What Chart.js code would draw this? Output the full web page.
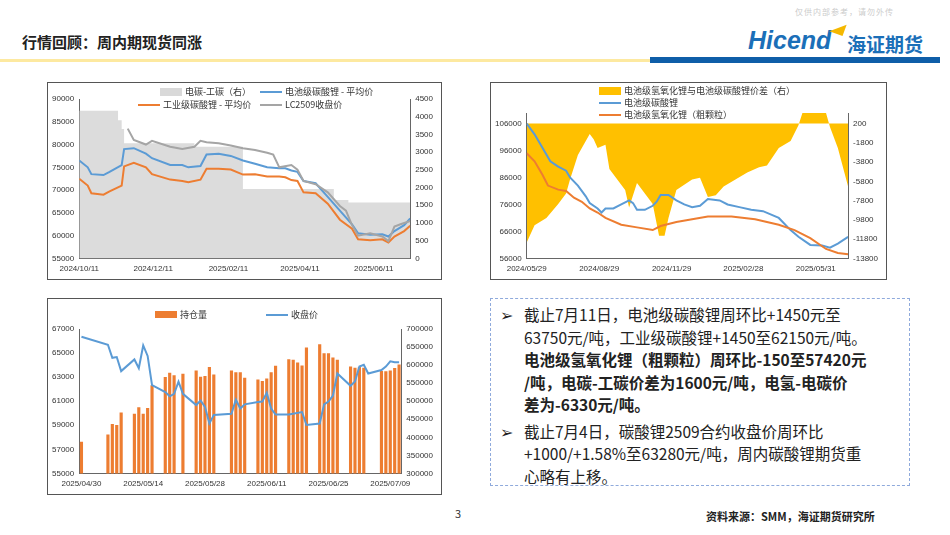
<!DOCTYPE html>
<html>
<head>
<meta charset="utf-8">
<script src="https://cdn.jsdelivr.net/npm/chart.js@4.4.0/dist/chart.umd.min.js"></script>
<style>
  body { margin: 0; width: 950px; height: 535px; background: #fff; position: relative; overflow: hidden; font-family: "Noto Sans CJK SC", "Noto Sans", sans-serif; }
  .abs { position: absolute; }
  .box { position: absolute; border: 1px solid #555; background: #fff; }
  .box canvas { position: absolute; left: 0; top: 0; }
  .leg { position: absolute; font-size: 9px; color: #333; white-space: nowrap; display: flex; align-items: center; }
  .sw { display: inline-block; width: 22px; margin-right: 3px; }
  #txt { left: 490px; top: 298px; width: 418px; height: 186px; border: 1.5px dashed #8faadc; font-size: 15.5px; line-height: 22.5px; color: #222; white-space: nowrap; }
  #txt p { margin: 0; padding-left: 33px; position: relative; }
  #txt p span.ar { position: absolute; left: 9px; }
</style>
</head>
<body>
<div class="abs" style="left:22px;top:31px;font-size:15px;font-weight:bold;color:#222;">行情回顾：周内期现货同涨</div>
<div class="abs" style="left:795px;top:6px;font-size:8px;color:#ccc;letter-spacing:1px;">仅供内部参考，请勿外传</div>
<div class="abs" style="left:748px;top:26px;font-size:25px;font-weight:bold;font-style:italic;color:#1b6fb8;font-family:'Liberation Sans',sans-serif;">Hicend</div>
<div class="abs" style="left:831px;top:22px;width:0;height:0;border-left:14px solid transparent;border-bottom:12px solid #f5b800;transform:rotate(20deg);"></div>
<div class="abs" style="left:847px;top:30px;font-size:19px;font-weight:bold;color:#1b6fb8;">海证期货</div>
<div class="abs" style="left:0;top:59px;width:650px;height:3px;background:#fde9a0;"></div>
<div class="abs" style="left:650px;top:57px;width:290px;height:6px;background:#0f5ea8;"></div>

<div class="box" style="left:47px;top:82px;width:393px;height:196px;">
  <canvas id="c1" width="393" height="196"></canvas>
  <div class="leg" style="left:112px;top:2px;"><span class="sw" style="height:8px;background:#d9d9d9;"></span>电碳-工碳（右）</div>
  <div class="leg" style="left:212px;top:2px;"><span class="sw" style="height:2px;background:#5b9bd5;"></span>电池级碳酸锂 - 平均价</div>
  <div class="leg" style="left:90px;top:15px;"><span class="sw" style="height:2px;background:#ed7d31;"></span>工业级碳酸锂 - 平均价</div>
  <div class="leg" style="left:212px;top:15px;"><span class="sw" style="height:2px;background:#a5a5a5;"></span>LC2509收盘价</div>
</div>

<div class="box" style="left:490px;top:82px;width:395px;height:196px;">
  <canvas id="c2" width="395" height="196"></canvas>
  <div class="leg" style="left:108px;top:1px;"><span class="sw" style="height:8px;background:#ffc000;"></span>电池级氢氧化锂与电池级碳酸锂价差（右）</div>
  <div class="leg" style="left:108px;top:13px;"><span class="sw" style="height:2px;background:#5b9bd5;"></span>电池级碳酸锂</div>
  <div class="leg" style="left:108px;top:25px;"><span class="sw" style="height:2px;background:#ed7d31;"></span>电池级氢氧化锂（粗颗粒）</div>
</div>

<div class="box" style="left:47px;top:298px;width:393px;height:195px;">
  <canvas id="c3" width="393" height="195"></canvas>
  <div class="leg" style="left:107px;top:9px;"><span class="sw" style="height:7px;background:#ed7d31;"></span>持仓量</div>
  <div class="leg" style="left:218px;top:9px;"><span class="sw" style="height:2px;background:#5b9bd5;"></span>收盘价</div>
</div>

<div id="txt" class="abs">
  <p style="margin-top:4px;"><span class="ar">➢</span>截止7月11日，电池级碳酸锂周环比+1450元至<br>63750元/吨，工业级碳酸锂+1450至62150元/吨。<br><b>电池级氢氧化锂（粗颗粒）周环比-150至57420元<br>/吨，电碳-工碳价差为1600元/吨，电氢-电碳价<br>差为-6330元/吨。</b></p>
  <p style="margin-top:4px;"><span class="ar">➢</span>截止7月4日，碳酸锂2509合约收盘价周环比<br>+1000/+1.58%至63280元/吨，周内碳酸锂期货重<br>心略有上移。</p>
</div>

<div class="abs" style="left:455px;top:505px;font-size:11px;color:#333;">3</div>
<div class="abs" style="left:706px;top:508px;font-size:11px;font-weight:bold;color:#222;">资料来源：SMM，海证期货研究所</div>

<script>
// ---- 图1：电碳/工碳（天数自 2024/10/11 起）
const c1Days = [0, 7, 10, 20, 25, 35, 37, 45, 55, 60, 75, 85, 90, 100, 105, 115, 125, 135, 145, 155, 165, 170, 175, 180, 185, 195, 205, 215, 225, 230, 240, 250, 255, 260, 268, 273];
const c1Battery = [76500, 75000, 73500, 73300, 74000, 75500, 79000, 79200, 78000, 77000, 75500, 75500, 75000, 75300, 77800, 78000, 77500, 76500, 75800, 75000, 74800, 74800, 74300, 74000, 72000, 71500, 68500, 65500, 62500, 60500, 60200, 60300, 59800, 61000, 62300, 63750];
const c1Industry = [72500, 71000, 69300, 69000, 69700, 71000, 75200, 76000, 75000, 73500, 72300, 72000, 71700, 72300, 74700, 74700, 74500, 73400, 73500, 73000, 73000, 72800, 72200, 72000, 69500, 69300, 67000, 63500, 61500, 59200, 59000, 59200, 58500, 59800, 61000, 62150];
const lcDays = [40, 45, 55, 60, 75, 85, 95, 100, 105, 115, 125, 135, 145, 155, 160, 165, 175, 180, 185, 195, 205, 215, 220, 225, 230, 240, 250, 255, 260, 265, 273];
const lcClose = [83500, 81000, 80000, 80800, 79500, 79000, 79500, 80800, 80500, 80300, 79800, 79200, 78800, 78200, 77800, 75000, 75500, 74500, 72000, 71300, 69500, 66500, 65500, 62300, 60000, 60500, 59800, 58800, 62000, 62500, 63200];
const spreadDays = [0, 32, 35, 37, 95, 135, 210, 222, 273];
const spreadVals = [4170, 3900, 3650, 3250, 3150, 1960, 1650, 1580, 1580];
const c1Ticks = [0, 61, 123, 182, 243];
const c1TickLabels = ['2024/10/11', '2024/12/11', '2025/02/11', '2025/04/11', '2025/06/11'];

// ---- 图2：电氢/电碳（天数自 2024/05/29 起）
const c2Days = [0, 10, 20, 30, 40, 50, 55, 65, 75, 80, 90, 95, 100, 110, 120, 130, 135, 140, 150, 160, 165, 170, 180, 190, 200, 210, 220, 230, 245, 255, 270, 285, 300, 320, 335, 345, 360, 375, 385, 395, 408];
const c2Carbonate = [106000, 102000, 97000, 92000, 90000, 88500, 86000, 83000, 79000, 76500, 74500, 73000, 74500, 74500, 76000, 77500, 76500, 74000, 74000, 75500, 77000, 79500, 79500, 77500, 76000, 75000, 75500, 78000, 77500, 76000, 75000, 74000, 73500, 71000, 66500, 64000, 61000, 60800, 60000, 61500, 64000];
const hydDays = [0, 10, 20, 27, 40, 50, 60, 70, 80, 90, 100, 120, 140, 160, 170, 190, 210, 230, 260, 290, 320, 340, 360, 380, 395, 408];
const hydVals = [95000, 92000, 87000, 83000, 81500, 81000, 78500, 77000, 74500, 73000, 71000, 68500, 67500, 66500, 68000, 69500, 70500, 71500, 71500, 70500, 68500, 66500, 63500, 59500, 58000, 57500];
const gapDays = [0, 10, 25, 40, 50, 55, 65, 75, 80, 85, 90, 100, 105, 115, 125, 130, 140, 150, 160, 168, 175, 180, 190, 200, 210, 220, 230, 240, 250, 265, 280, 295, 305, 320, 335, 345, 350, 380, 385, 395, 408];
const gapVals = [-12160, -10350, -9620, -8160, -7070, -5620, -3070, -1620, -890, -1440, -2350, -2000, -4530, -5620, -6710, -8530, -5980, -7070, -8160, -11440, -11440, -9620, -6710, -6160, -5620, -5440, -7440, -7250, -6350, -5620, -4890, -4350, -4160, -2350, -1620, 20, 1290, 1290, -160, -2350, -6350];
const c2Ticks = [0, 92, 184, 275, 367];
const c2TickLabels = ['2024/05/29', '2024/08/29', '2024/11/29', '2025/02/28', '2025/05/31'];

// ---- 图3：持仓量/收盘价（天数自 2025/04/30 起）
const oiDays = [0, 6, 7, 8, 9, 12, 13, 14, 15, 16, 19, 20, 21, 23, 26, 27, 28, 29, 30, 34, 35, 36, 37, 40, 41, 42, 43, 44, 47, 48, 49, 50, 51, 54, 55, 56, 57, 58, 61, 62, 63, 64, 68, 69, 70, 71, 72];
const oiVals = [387000, 407000, 436000, 433000, 468000, 464000, 482000, 464000, 480000, 543000, 566000, 578000, 571000, 575000, 584000, 567000, 569000, 594000, 573000, 584000, 579000, 579000, 564000, 559000, 555000, 562000, 579000, 597000, 615000, 614000, 606000, 598000, 648000, 657000, 632000, 632000, 620000, 614000, 595000, 592000, 594000, 592000, 583000, 582000, 584000, 591000, 601000];
const closeDays = [0, 6, 7, 8, 9, 12, 13, 14, 15, 16, 19, 20, 21, 22, 23, 26, 27, 28, 29, 30, 34, 35, 36, 37, 40, 41, 42, 43, 44, 47, 50, 51, 54, 55, 56, 57, 58, 61, 62, 63, 64, 65, 68, 69, 70, 71, 72];
const closeVals = [66360, 65690, 64610, 64670, 63500, 64470, 63740, 65630, 64760, 62340, 61760, 61410, 61610, 62630, 61610, 60680, 61060, 60530, 59140, 59860, 59950, 61120, 60390, 60740, 60940, 60970, 61700, 60390, 59890, 59890, 60100, 59020, 59140, 60740, 60970, 61470, 63300, 62280, 62630, 63880, 64030, 63300, 63590, 63880, 64320, 64230, 64230];
const c3Ticks = [0, 14, 28, 42, 56, 70];
const c3TickLabels = ['2025/04/30', '2025/05/14', '2025/05/28', '2025/06/11', '2025/06/25', '2025/07/09'];

const pts = (xs, ys) => xs.map((x, i) => ({ x, y: ys[i] }));
const tickFont = { size: 8, family: 'Liberation Sans' };

function xAxis(min, max, ticks, labels) {
  return {
    type: 'linear', min, max,
    grid: { display: false, drawTicks: true, tickLength: 3, color: '#666' },
    border: { color: '#666' },
    afterBuildTicks: ax => { ax.ticks = ticks.map(v => ({ value: v })); },
    ticks: { font: tickFont, color: '#333', maxRotation: 0, callback: v => labels[ticks.indexOf(v)] }
  };
}
function yAxis(pos, min, max, ticks) {
  return {
    position: pos, min, max,
    grid: { display: false, tickLength: 3, color: '#666' },
    border: { color: '#666' },
    afterBuildTicks: ax => { ax.ticks = ticks.map(v => ({ value: v })); },
    ticks: { font: tickFont, color: '#333', padding: 2, callback: v => String(v) }
  };
}
const range = (a, b, s) => { const r = []; for (let v = a; v <= b; v += s) r.push(v); return r; };
const common = { responsive: false, animation: false, plugins: { legend: { display: false }, tooltip: { enabled: false } } };
const line = (data, color, axis, w) => ({ type: 'line', data, borderColor: color, borderWidth: w || 2, pointRadius: 0, yAxisID: axis, tension: 0 });

new Chart(document.getElementById('c1'), {
  type: 'line',
  data: { datasets: [
    line(pts(lcDays, lcClose), '#a5a5a5', 'y'),
    line(pts(c1Days, c1Industry), '#ed7d31', 'y'),
    line(pts(c1Days, c1Battery), '#5b9bd5', 'y'),
    { type: 'line', data: pts(spreadDays, spreadVals), yAxisID: 'y1', stepped: 'before', fill: 'origin', backgroundColor: '#dcdcdc', borderWidth: 0, pointRadius: 0, order: 10 }
  ] },
  options: Object.assign({}, common, {
    layout: { padding: { top: 16, left: 2, right: 6, bottom: 2 } },
    scales: {
      x: xAxis(0, 273, c1Ticks, c1TickLabels),
      y: yAxis('left', 55000, 90000, range(55000, 90000, 5000)),
      y1: yAxis('right', 0, 4500, range(0, 4500, 500))
    }
  })
});

new Chart(document.getElementById('c2'), {
  type: 'line',
  data: { datasets: [
    line(pts(hydDays, hydVals), '#ed7d31', 'y'),
    line(pts(c2Days, c2Carbonate), '#5b9bd5', 'y'),
    { type: 'line', data: pts(gapDays, gapVals), yAxisID: 'y1', fill: { value: 200 }, backgroundColor: '#ffc000', borderWidth: 0, pointRadius: 0, order: 10 }
  ] },
  options: Object.assign({}, common, {
    layout: { padding: { top: 30, left: 2, right: 6, bottom: 2 } },
    scales: {
      x: xAxis(0, 408, c2Ticks, c2TickLabels),
      y: yAxis('left', 56000, 109900, range(56000, 106000, 10000)),
      y1: yAxis('right', -13800, 1290, range(-13800, 200, 2000))
    }
  })
});

new Chart(document.getElementById('c3'), {
  data: { datasets: [
    line(pts(closeDays, closeVals), '#5b9bd5', 'y'),
    { type: 'bar', data: pts(oiDays, oiVals), yAxisID: 'y1', backgroundColor: '#ed7d31', barThickness: 2.5, order: 10 }
  ] },
  options: Object.assign({}, common, {
    layout: { padding: { top: 30, left: 2, right: 6, bottom: 2 } },
    scales: {
      x: Object.assign(xAxis(-0.5, 72.5, c3Ticks, c3TickLabels), { offset: false }),
      y: yAxis('left', 55000, 67000, range(55000, 67000, 2000)),
      y1: yAxis('right', 300000, 700000, range(300000, 700000, 50000))
    }
  })
});
</script>
</body>
</html>
